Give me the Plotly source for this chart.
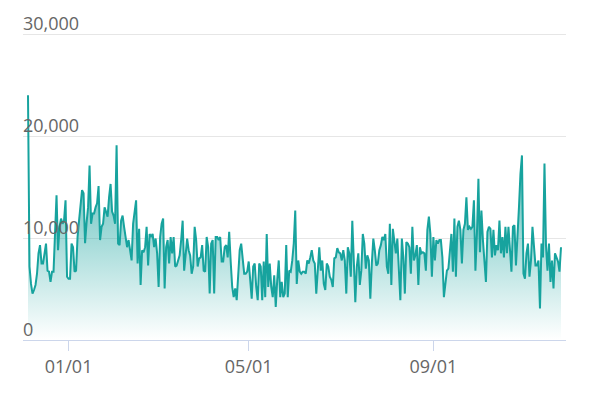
import pandas as pd
import plotly.graph_objects as go

start_date = "2022-12-05"
values = [
    24000, 7200, 5500, 4550, 4900, 5400, 6500, 8500, 9300, 7500,
    7500, 8500, 9450, 6800, 6700, 5700, 6700, 6700, 10800, 14200,
    8800, 11100, 11900, 11400, 11700, 13700, 6200, 6000, 6000, 9450,
    9100, 6700, 6800, 10100, 11700, 13700, 14700, 14400,
    9500, 11500, 13000, 17100, 11400, 12400, 12400, 13000, 13400, 15100,
    9800, 11100, 11400, 13000, 12400, 12100, 14000, 15300, 12600, 12200,
    11400, 19100, 9450, 9300, 11700, 12200, 11100, 9800, 9100, 9800,
    8500, 7800, 11400, 12600, 13700, 7500, 10900, 5400, 8800, 8600,
    9100, 11100, 7300, 10400, 10100, 10400, 9100, 9950, 8500, 5200,
    10100, 11400, 11900, 5050, 9100, 9800, 7500, 10100, 8500, 10100,
    7200, 7300, 7800, 8300, 9800, 11700, 6800, 8100, 9950, 8800,
    8300, 6500, 7200, 11100, 9800, 7200, 8000, 8100, 9300, 6800,
    6700, 10100, 9100, 4550, 9450, 9800, 4550, 10100, 10100, 9800,
    10100, 7700, 7700, 9100, 9300, 8100, 10600, 7700, 5200, 4200,
    5050, 3900, 6200, 8800, 9450, 8100, 6500, 6500, 6700, 7700,
    5900, 4050, 7200, 7500, 5200, 3900, 7500, 7200, 3900, 7700,
    4200, 10400, 5200, 7500, 5200, 4200, 6350, 3250, 5900, 7800,
    4200, 5700, 4200, 4550, 9300, 4200, 6800, 6700, 7800, 9450,
    12700, 5500, 7800, 6700, 6500, 6700, 6700, 6500, 7800, 7500,
    8100, 8800, 7800, 7500, 4550, 7200, 9100, 6800, 7800, 5500,
    4900, 7500, 7200, 6200, 5900, 5200, 8000, 8100, 9000, 8600,
    8500, 7800, 8800, 7800, 4550, 9100, 8500, 6200, 11700, 7800,
    3700, 7200, 8500, 5400, 6800, 10400, 9450, 7000, 8300, 7800,
    4050, 7500, 9950, 8800, 7300, 7500, 8800, 9300, 10100, 9800,
    10400, 7200, 6500, 11400, 5400, 10900, 9800, 8500, 9950, 6800,
    3900, 9950, 8100, 4550, 9600, 9450, 9100, 6500, 11100, 7800,
    8300, 9300, 5400, 9100, 8500, 8600, 8500, 6800, 10800, 12100,
    10400, 6200, 10100, 7800, 9800, 9450, 9800, 9800, 8100, 4200,
    5900, 6800, 7000, 8500, 10400, 6700, 11900, 6200, 11100, 11700,
    10800, 7500, 10800, 11400, 14000, 10800, 11100, 10900, 11100, 13700,
    6800, 10400, 15800, 8600, 12700, 9800, 7500, 5700, 10600, 11100,
    10900, 8100, 10800, 8300, 9300, 8800, 11700, 8500, 10100, 8100,
    11100, 8500, 11100, 8800, 6700, 11100, 11250, 7300, 11100, 13000,
    16300, 18100, 6500, 6000, 8500, 9450, 6200, 7800, 11100, 8800,
    7300, 7300, 7800, 3100, 9450, 8100, 17300, 9300, 6800, 9450,
    5700, 7800, 5050, 8500, 8100, 7700, 6700, 9100,
]
dates = pd.date_range(start_date, periods=len(values), freq="D")

tick_vals = ["2023-01-01", "2023-05-01", "2023-09-01"]
tick_text = ["01/01", "05/01", "09/01"]
y_ticks = [0, 10000, 20000, 30000]
y_text = ["0", "10,000", "20,000", "30,000"]

line_color = "#17a39e"
font_family = "Open Sans, sans-serif"

fig = go.Figure()
fig.add_trace(go.Scatter(
    x=dates, y=values, mode="lines",
    line=dict(color=line_color, width=2),
    fill="tozeroy",
    fillgradient=dict(
        type="vertical", start=0, stop=20000,
        colorscale=[[0, "rgba(23,163,158,0.0)"], [0.5, "rgba(23,163,158,0.4)"], [1, "rgba(23,163,158,0.75)"]],
    ),
    hoverinfo="skip",
))

for v, t in zip(y_ticks, y_text):
    fig.add_annotation(
        xref="paper", yref="y", x=0, y=v, text=t, showarrow=False,
        xanchor="left", yanchor="bottom", yshift=-3, xshift=-2,
        font=dict(family=font_family, size=18, color="#666666"),
    )

x0 = dates[0] - pd.Timedelta(hours=80)
x1 = dates[-1] + pd.Timedelta(hours=80)

fig.update_layout(
    width=591, height=396,
    margin=dict(l=23, r=25, t=33, b=56),
    paper_bgcolor="white", plot_bgcolor="white",
    showlegend=False,
    font=dict(family=font_family, color="#666666", size=18),
    xaxis=dict(
        range=[x0, x1],
        tickvals=tick_vals, ticktext=tick_text,
        showgrid=False, zeroline=False,
        showline=True, linecolor="#ccd6eb", linewidth=1,
        ticks="outside", ticklen=10, tickcolor="#ccd6eb", tickwidth=1,
        tickfont=dict(family=font_family, size=18, color="#666666"),
    ),
    yaxis=dict(
        range=[0, 30100],
        tickvals=y_ticks,
        showticklabels=False,
        showgrid=True, gridcolor="#e6e6e6", gridwidth=1,
        zeroline=False, showline=False,
    ),
)

fig.write_html("out.html")
